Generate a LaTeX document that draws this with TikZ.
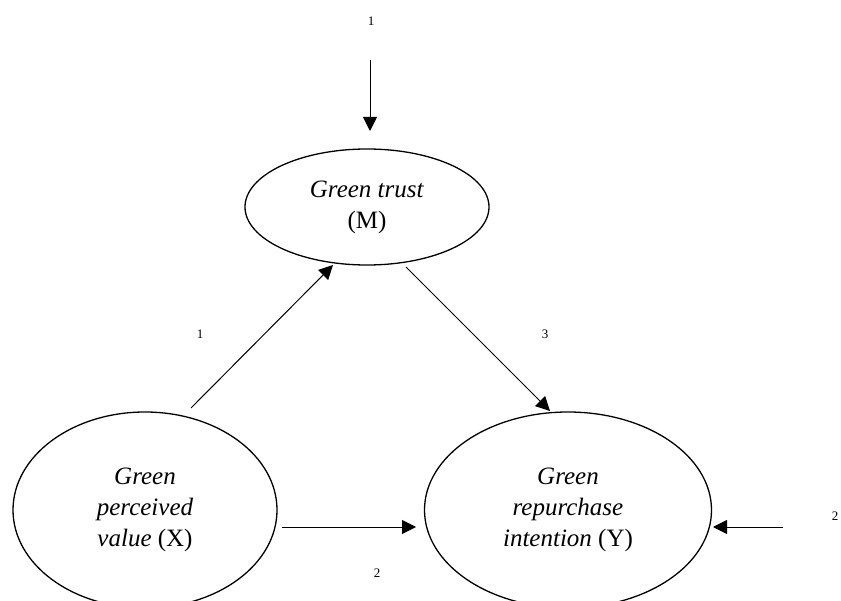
\documentclass[tikz,border=0pt]{standalone}
\usepackage{fontspec}
\setmainfont{Liberation Serif}
\usetikzlibrary{arrows.meta,shapes.geometric}
\begin{document}
\begin{tikzpicture}[x=1pt,y=-1pt,
  latent/.style={draw, ellipse, line width=1.3pt, inner sep=0pt, align=center,
    font=\fontsize{25}{31}\selectfont},
  arr/.style={line width=1pt, -{Triangle[length=14pt,width=14pt]}},
  lbl/.style={font=\fontsize{13}{15}\selectfont, inner sep=0pt}]
\useasboundingbox (0,0) rectangle (841,601);
% latent variables
\node[latent, minimum width=244pt, minimum height=116pt] (M) at (367,207)
  {\textit{Green trust}\\(M)};
\node[latent, minimum width=264pt, minimum height=196pt] (X) at (145,510)
  {\textit{Green}\\\textit{perceived}\\\textit{value} (X)};
\node[latent, minimum width=287pt, minimum height=196pt] (Y) at (568,510)
  {\textit{Green}\\\textit{repurchase}\\\textit{intention} (Y)};
% connector end points
\coordinate (eMs) at (370,60);
\coordinate (eMt) at (370,131);
\coordinate (xms) at (191,408);
\coordinate (xmt) at (333,265);
\coordinate (mys) at (406,267);
\coordinate (myt) at (550,411);
\coordinate (xys) at (282,527);
\coordinate (xyt) at (416,527);
\coordinate (eYs) at (783,527);
\coordinate (eYt) at (713,527);
% connectors
\draw[arr] (eMs) -- (eMt);
\draw[arr] (xms) -- (xmt);
\draw[arr] (mys) -- (myt);
\draw[arr] (xys) -- (xyt);
\draw[arr] (eYs) -- (eYt);
% labels
\node[lbl] (l1) at (371,21) {1};
\node[lbl] (l2) at (200,334) {1};
\node[lbl] (l3) at (545,334) {3};
\node[lbl] (l4) at (377,573) {2};
\node[lbl] (l5) at (835,516) {2};
\end{tikzpicture}
\end{document}
